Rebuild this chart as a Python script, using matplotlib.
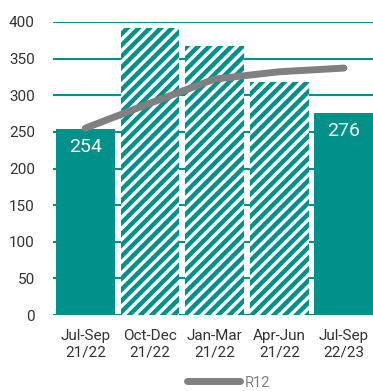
import matplotlib
matplotlib.use("Agg")
import matplotlib.pyplot as plt
import numpy as np

# Data
quarters = ["Jul-Sep\n21/22", "Oct-Dec\n21/22", "Jan-Mar\n21/22", "Apr-Jun\n21/22", "Jul-Sep\n22/23"]
values = [254, 392, 367, 318, 276]
hatched = [False, True, True, True, False]
r12 = [255, 289, 322, 332, 337]
labelled = [True, False, False, False, True]

teal = "#00918A"
gray = "#808080"
text_col = "#333333"

plt.rcParams['font.family'] = ['Roboto', 'DejaVu Sans']
plt.rcParams['hatch.linewidth'] = 3.2

fig = plt.figure(figsize=(3.73, 3.91), dpi=100)
ax = fig.add_axes([0.142, 0.194, 0.858, 0.750])

x = np.arange(len(quarters))
for yv in range(0, 401, 50):
    ax.axhline(yv, color=teal, lw=1.5 if yv else 2.2, zorder=0)

for i, (v, h) in enumerate(zip(values, hatched)):
    if h:
        ax.bar(x[i], v, width=0.91, facecolor="white", edgecolor=teal,
               hatch="///", lw=0, zorder=2)
    else:
        ax.bar(x[i], v, width=0.91, color=teal, lw=0, zorder=2)
    if labelled[i]:
        ax.text(x[i], v - 25, str(v), ha="center", va="center",
                color="white", fontsize=14, zorder=4)

ax.plot(x, r12, color=gray, lw=5, solid_capstyle="round", zorder=3, label="R12")

ax.set_xlim(-0.5, 4.45)
ax.set_ylim(0, 400)
ax.set_yticks(range(0, 401, 50))
ax.set_xticks(x)
ax.set_xticklabels(quarters)
ax.tick_params(axis="both", length=0, labelsize=11, colors=text_col)
ax.tick_params(axis="y", pad=13)
ax.tick_params(axis="x", pad=10)
for s in ax.spines.values():
    s.set_visible(False)

leg = ax.legend(loc="center", bbox_to_anchor=(0.55, -0.23), frameon=False,
                handlelength=3.6, handletextpad=0.35, fontsize=10.5)
for t in leg.get_texts():
    t.set_color(gray)

plt.savefig("out.png", dpi=100)
